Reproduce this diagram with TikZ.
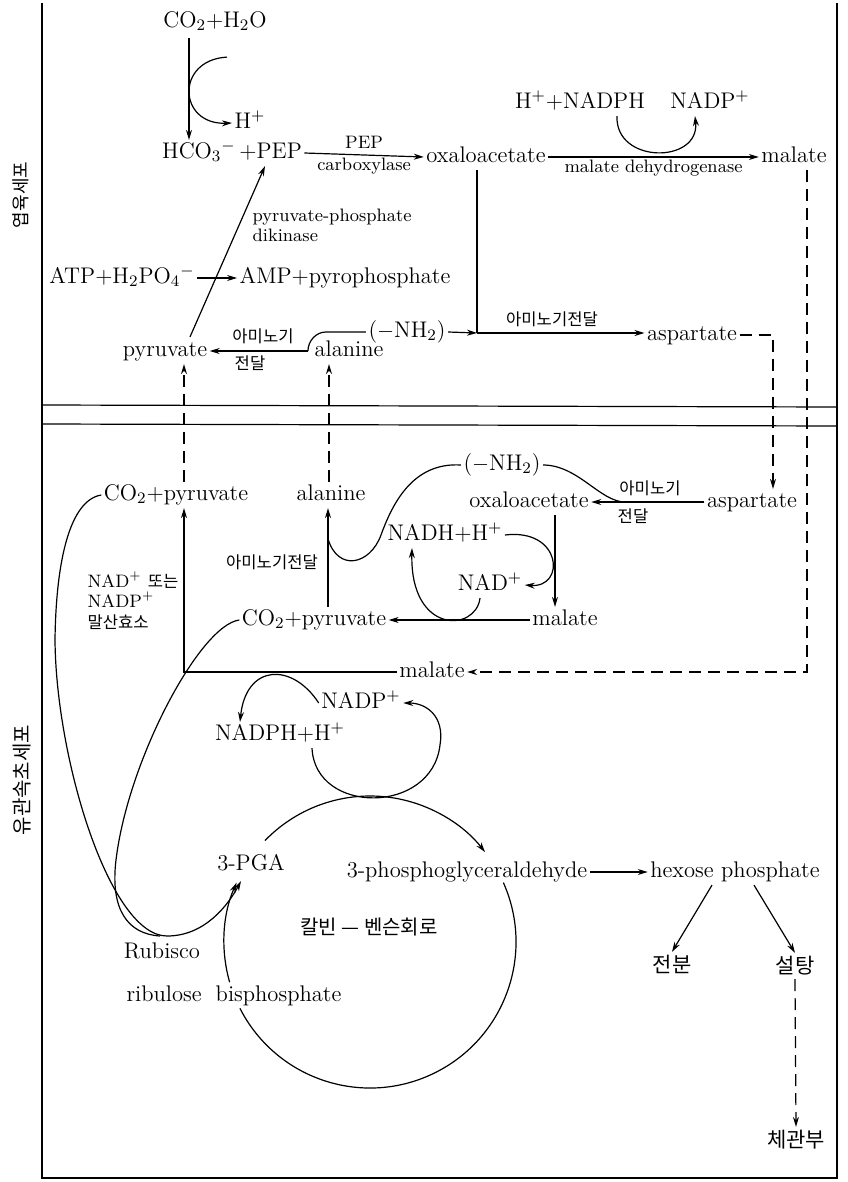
\documentclass[tikz,border=0pt]{standalone}
\usepackage{fontspec}
\newfontfamily\kr{Noto Sans CJK KR}
\usetikzlibrary{arrows.meta,calc}
\newcommand\fmain{\fontsize{11.3}{13}\selectfont}
\newcommand\fsm{\fontsize{9}{10.5}\selectfont}
\newcommand\krsmall{\kr\fontsize{8.3}{9.5}\selectfont}
\newcommand\krmid{\kr\fontsize{10}{12}\selectfont}
\newcommand\krbig{\kr\fontsize{10.5}{12.5}\selectfont}
\begin{document}
\begin{tikzpicture}[x=0.5pt,y=-0.5pt,line width=0.6pt,
  every node/.style={inner sep=1pt,font=\fmain,text height=8pt,text depth=2.5pt},
  arr/.style={-{Stealth[length=5pt,width=3pt]}},
  dsh/.style={dash pattern=on 6pt off 3.5pt},
  sm/.style={font=\fsm,text height=6.5pt,text depth=2pt},
  krs/.style={font=\krsmall,text height=7pt,text depth=1.5pt},
  krm/.style={font=\krmid,text height=8.5pt,text depth=1.5pt},
  krb/.style={font=\krbig,text height=9pt,text depth=1.5pt}]
\fill[white] (0,0) rectangle (847,1182);
\useasboundingbox (0,0) rectangle (847,1182);

% frame
\draw (42,3) -- (42,1178) -- (837,1178) -- (837,3);
\draw (42,405) -- (837,407);
\draw (42,424) -- (837,426);
\node[krs,rotate=90,font=\kr\fontsize{9}{11}\selectfont] (mes) at (22,195) {엽육세포};
\node[krm,rotate=90,font=\kr\fontsize{10}{12}\selectfont] (bs) at (22,780) {유관속초세포};

% ---------- mesophyll nodes ----------
\node (co2h2o) at (215,22) {CO$_2$+H$_2$O};
\node (hplus) at (250,123) {H$^+$};
\node (hco3) at (232,153) {HCO$_3{}^-$\,+PEP};
\node (oaa1) at (486,157) {oxaloacetate};
\node (hnadph) at (580,103) {H$^+$+NADPH};
\node (nadp1) at (710,103) {NADP$^+$};
\node (mal1) at (794,157) {malate};
\node[sm,anchor=west] (ppdka) at (250,217) {pyruvate-phosphate};
\node[sm,anchor=west] (ppdkb) at (250,237) {dikinase};
\node (atp) at (122,278) {ATP+H$_2$PO$_4{}^-$};
\node (amp) at (345,278) {AMP+pyrophosphate};
\node (pyr1) at (165,351) {pyruvate};
\node (ala1) at (349,351) {alanine};
\node (nh2a) at (407,332) {($-$NH$_2$)};
\node (asp1) at (692,335) {aspartate};
\node[krs] (amt1) at (552,320) {아미노기전달};
\node[krs] (amt2a) at (263,337) {아미노기};
\node[krs] (amt2b) at (250,364) {전달};

% ---------- bundle sheath nodes ----------
\node (cp1) at (176,495) {CO$_2$+pyruvate};
\node (ala2) at (331,495) {alanine};
\node (nh2b) at (502,465) {($-$NH$_2$)};
\node (oaa2) at (529,502) {oxaloacetate};
\node (asp2) at (752,502) {aspartate};
\node (nadh) at (445,535) {NADH+H$^+$};
\node (nad) at (490,585) {NAD$^+$};
\node (mal2) at (565,620) {malate};
\node (cp2) at (314,620) {CO$_2$+pyruvate};
\node (mal3) at (432,672) {malate};
\node (nadp2) at (361,703) {NADP$^+$};
\node (nadph2) at (280,735) {NADPH+H$^+$};
\node[krs] (amt3a) at (650,489) {아미노기};
\node[krs] (amt3b) at (633,517) {전달};
\node[krs] (amt4) at (272,563) {아미노기전달};
\node[sm,anchor=west] (me1) at (85,583) {NAD$^+$ {\krsmall 또는}};
\node[sm,anchor=west] (me2) at (85,603) {NADP$^+$};
\node[krs,anchor=west] (me3) at (85,623) {말산효소};

% ---------- Calvin cycle nodes ----------
\node (pga) at (251,865) {3-PGA};
\node (g3p) at (467,872) {3-phosphoglyceraldehyde};
\node (hexp) at (735,872) {hexose phosphate};
\node[krm] (calvin) at (369,927) {칼빈 — 벤슨회로};
\node (rubisco) at (162,953) {Rubisco};
\node (rubp) at (234,996) {ribulose\hspace{7pt}bisphosphate};
\node[krb] (starch) at (672,965) {전분};
\node[krb] (sugar) at (795,966) {설탕};
\node[krb] (phloem) at (796,1140) {체관부};

% ---------- mesophyll connectors ----------
\draw[arr] ($(co2h2o.south)+(-26,3)$) -- ($(hco3.north)+(-43,0)$);
\draw[arr] ($(co2h2o.south)+(12,22)$) .. controls (175,60) and (178,125) .. (hplus.west);
\draw[arr] (hco3.east) -- (oaa1.west)
   node[midway,above,sm] (pepl) {PEP}
   node[midway,below,sm] (pepc) {carboxylase};
\draw[arr] (oaa1.east) -- (mal1.west)
   node[midway,below,sm] (mdh) {malate dehydrogenase};
\draw[arr] ($(hnadph.south)+(37,0)$) .. controls +(-2,48) and +(5,48) .. ($(nadp1.south)+(-15,0)$);
\coordinate (j1) at (477,333);
\draw ($(oaa1.south)+(-9,0)$) -- (j1);
\draw[arr] (nh2a.east) -- (j1);
\draw[arr] (j1) -- (j1 -| asp1.west);
\draw[dsh,arr] (asp1.east) -| ($(asp2.north)+(21,0)$);
\draw[dsh,arr] ($(mal1.south)+(13,0)$) |- (mal3.east);
\draw[arr] (atp.east) -- (amp.west);
\draw[arr] ($(pyr1.north)+(25,-1)$) -- ($(hco3.south)+(33,0)$);
\draw[arr] ($(ala1.west)+(-4,0)$) -- (pyr1.east);
\draw (nh2a.west) -- ++(-40,0) .. controls +(-10,0) and +(0,-10) .. ($(ala1.west)+(-4,0)$);
\draw[dsh,arr] ($(cp1.north)+(8,0)$) -- ($(pyr1.south)+(19,0)$);
\draw[dsh,arr] ($(ala2.north)+(-2,0)$) -- ($(ala1.south)+(-20,0)$);

% ---------- bundle sheath connectors ----------
\draw[arr] (asp2.west) -- (oaa2.east);
\draw (nh2b.east) .. controls +(35,0) and +(-25,0) .. ($(oaa2.east)!0.3!(asp2.west)$);
\draw (nh2b.west) .. controls (412,462) and (392,505) .. (381,535)
   .. controls (370,565) and (338,572) .. ($(cp2.north)+(14,-68)$);
\draw[arr] ($(cp2.north)+(14,0)$) -- ($(ala2.south)+(-3,0)$);
\draw[arr] ($(oaa2.south)+(26,0)$) -- ($(mal2.north)+(-10,0)$);
\draw[arr] (nadh.east) .. controls (562,528) and (566,588) .. (nad.east);
\draw[arr] ($(nad.south)+(-10,0)$) .. controls (476,632) and (410,635) .. ($(nadh.south)+(-33,0)$);
\draw[arr] (mal2.west) -- (cp2.east);
\draw[arr] (mal3.west) -| ($(cp1.south)+(8,0)$);
\draw[arr] (nadp2.west) .. controls (292,662) and (246,664) .. ($(nadph2.north)+(-40,0)$);
\draw[arr] ($(nadph2.south)+(32,0)$) .. controls (315,815) and (432,815) .. (440,745)
   .. controls (445,715) and (425,703) .. (nadp2.east);

% ---------- Calvin cycle connectors ----------
\coordinate (cc) at (370,942);
\draw[arr] ($(cc)+(-136:146)$) arc[start angle=-136,end angle=-38,radius=146];
\draw ($(cc)+(-24:146)$) arc[start angle=-24,end angle=153,radius=146];
\draw[arr] ($(cc)+(-196:146)$) arc[start angle=-196,end angle=-156,radius=146];

\draw[arr] (cp1.west) .. controls (70,500) and (56,560) .. (55,640)
   .. controls (56,760) and (110,936) .. (167,936)
   .. controls (205,936) and (228,905) .. ($(pga.south)+(-10,3)$);
\draw (cp2.west) .. controls (200,625) and (128,760) .. (116,860)
   .. controls (110,910) and (128,934) .. (160,936);

\draw[arr] (g3p.east) -- (hexp.west);
\draw[arr] ($(hexp.south)+(-23,0)$) -- (starch.north);
\draw[arr] ($(hexp.south)+(19,0)$) -- (sugar.north);
\draw[dsh,arr] (sugar.south) -- (phloem.north);
\end{tikzpicture}
\end{document}
